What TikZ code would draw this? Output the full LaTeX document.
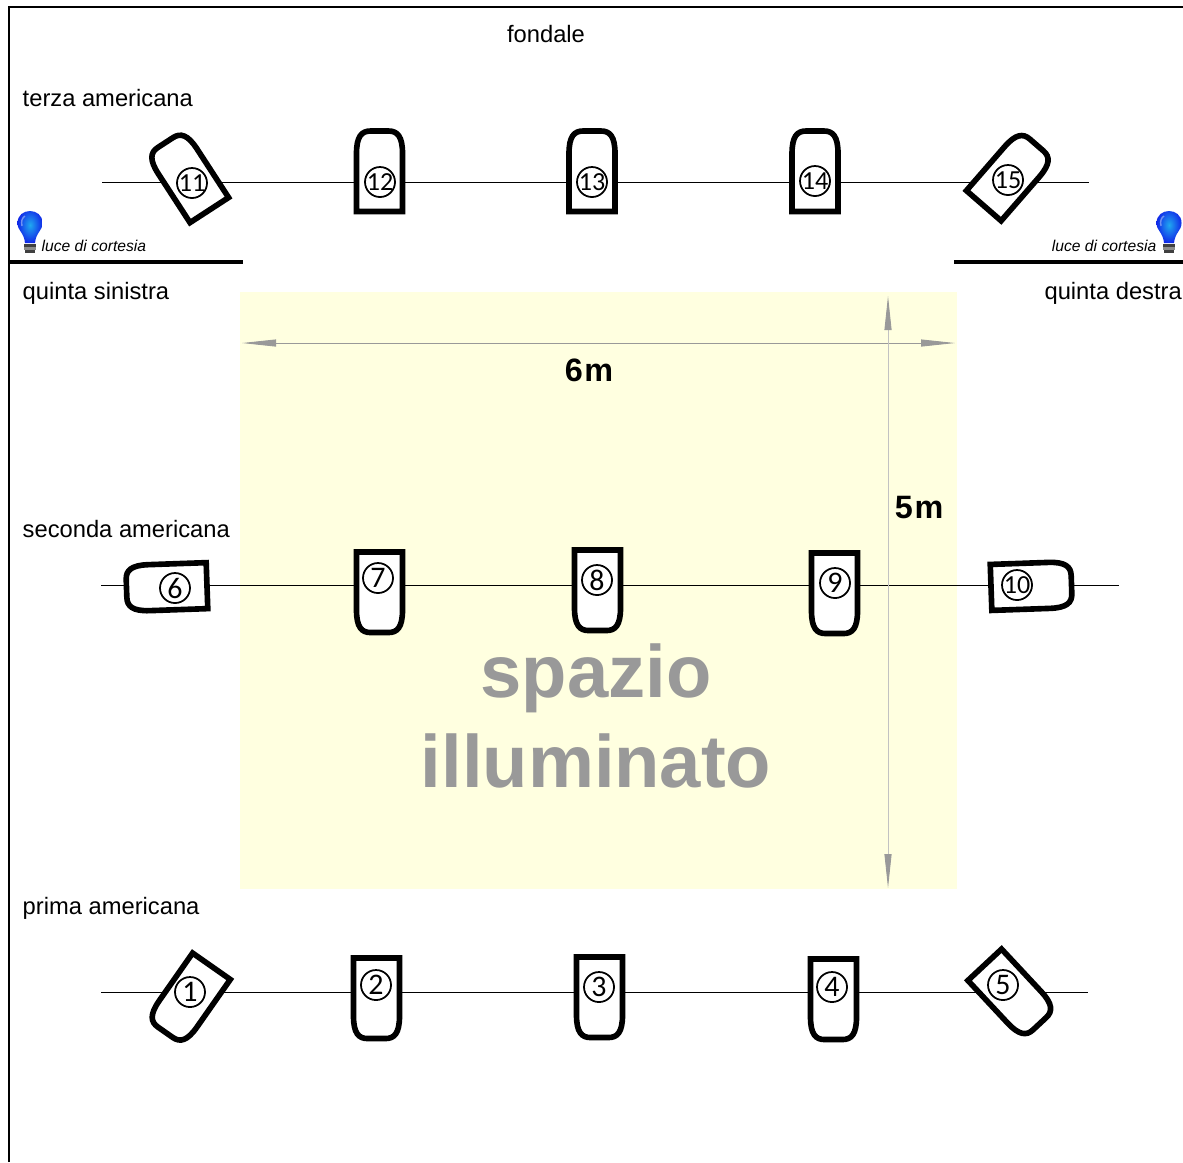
\documentclass[tikz,border=0pt]{standalone}
\usepackage{fontspec}
\setmainfont{Liberation Sans}
\newfontfamily\numfont{Carlito}
\usetikzlibrary{arrows.meta}

\definecolor{stagefill}{HTML}{FFFFE0}
\definecolor{dimgray}{HTML}{999999}
\definecolor{bulbdark}{HTML}{1028E8}
\definecolor{bulblight}{HTML}{20A8F0}

\tikzset{
	rowtext/.style={inner sep=0pt, font=\fontsize{6.75}{8}\selectfont},
	courtesy/.style={inner sep=0pt, font=\fontsize{4.45}{5}\selectfont\itshape},
	dimline/.style={draw=dimgray, line width=.25pt, {Triangle[length=3.4mm,width=.7mm,color=dimgray]}-{Triangle[length=3.4mm,width=.7mm,color=dimgray]}},
	dimtext/.style={font=\fontsize{9.2}{10}\selectfont\bfseries},
	bigtext/.style={font=\fontsize{21.1}{24}\selectfont\bfseries, text=dimgray},
	bar/.style={line width=1.4pt},
	num/.style={circle, draw, line width=.5pt, inner sep=0pt, minimum size=3mm, font=\numfont\fontsize{8.5}{9}\selectfont},
	housing/.style={line width=1.6pt, fill=white, line join=miter}
}

\begin{document}
\begin{tikzpicture}[x=.01cm, y=-.01cm]
	\useasboundingbox (0,0) rectangle (1183,1162);

	\fill[stagefill] (240,292) rectangle (957,889);

	\draw[line width=.7pt] (9,1162) -- (9,7) -- (1183,7);
	\draw[bar] (8,262) -- (243,262);
	\draw[bar] (954,262) -- (1183,262);

	% rows of lights
	\coordinate (t1) at (102,182);
	\coordinate (t2) at (1089,182);
	\coordinate (s1) at (101,585);
	\coordinate (s2) at (1119,585);
	\coordinate (p1) at (101,992);
	\coordinate (p2) at (1088,992);
	\draw[line width=.25pt] (t1) -- (t2);
	\draw[line width=.25pt] (s1) -- (s2);
	\draw[line width=.25pt] (p1) -- (p2);

	% lights with the round end up
	\foreach \x/\y/\a in {187.5/176.5/33, 379.5/171.5/0, 592/171.5/0, 815/171.5/0, 1010/175.5/-41, 1031/586/-88}
		\draw[housing, shift={(\x,\y)}, rotate=\a] (-23,40) -- (-23,-18) .. controls (-23,-35) and (-18,-40.5) .. (-9,-40.5) -- (9,-40.5) .. controls (18,-40.5) and (23,-35) .. (23,-18) -- (23,40) -- cycle;

	% lights with the round end down
	\foreach \x/\y/\a in {188.5/999/-35, 376.5/998/0, 599.5/997/0, 833.5/999/0, 1012/994/43, 167/587/-88, 379.5/592/0, 597.5/590/0, 834.5/593/0}
		\draw[housing, shift={(\x,\y)}, rotate=\a] (-23,-40) -- (-23,18) .. controls (-23,35) and (-18,40.5) .. (-9,40.5) -- (9,40.5) .. controls (18,40.5) and (23,35) .. (23,18) -- (23,-40) -- cycle;

	\foreach \n/\x/\y in {1/190/992, 2/376/985, 3/599/987, 4/832/987, 5/1003/985, 6/175/588, 7/378/578, 8/597/580, 9/835/583, 10/1017/585, 11/192/183, 12/380/182, 13/592/182, 14/815/181, 15/1008/180}
		\node[num] (n\n) at (\x,\y) {\ifnum\n>9 \fontsize{7.4}{8}\selectfont\fi\makebox[0pt]{\n}};

	% courtesy bulbs
	\foreach \x in {30,1169} {
		\begin{scope}[shift={(\x,0)}]
			\shade[inner color=bulblight, outer color=bulbdark] (-5,243) .. controls (-6,232) and (-12.5,231) .. (-12.5,223) .. controls (-12.5,207) and (12.5,207) .. (12.5,223) .. controls (12.5,231) and (6,232) .. (5,243) -- cycle;
			\draw[white, opacity=.4, line width=.4pt] (-8,226) .. controls (-9,221) and (-8,218) .. (-5,216);
			\fill[black!75] (-6,244) rectangle (6,247);
			\fill[black!45] (-6,247) rectangle (6,250);
			\fill[black!75] (-5,250) rectangle (5,253);
		\end{scope}
	}

	\node[courtesy, anchor=west] (cortesiasx) at (41,246) {luce di cortesia};
	\node[courtesy, anchor=east] (cortesiadx) at (1157,246) {luce di cortesia};

	\node[rowtext] (fondale) at (546,34) {fondale};
	\node[rowtext, anchor=west] (terza) at (22,98) {terza americana};
	\node[rowtext, anchor=west] (sinistra) at (22,293) {quinta sinistra};
	\node[rowtext, anchor=east] (destra) at (1182.5,293) {quinta destra};
	\node[rowtext, anchor=west] (seconda) at (22,529) {seconda americana};
	\node[rowtext, anchor=west] (prima) at (22,908) {prima americana};

	% measures
	\coordinate (wa) at (242,343);
	\coordinate (wb) at (955,343);
	\coordinate (ha) at (888,296);
	\coordinate (hb) at (888,888);
	\draw[dimline] (wa) -- (wb);
	\draw[dimline, draw=dimgray!60] (ha) -- (hb);
	\node[dimtext] (sei) at (589,370) {6\kern.5pt m};
	\node[dimtext] (cinque) at (919,507) {5\kern.5pt m};

	\node[bigtext] (spazio) at (596,678) {spazio};
	\node[bigtext] (illuminato) at (596,761) {illuminato};
\end{tikzpicture}
\end{document}
